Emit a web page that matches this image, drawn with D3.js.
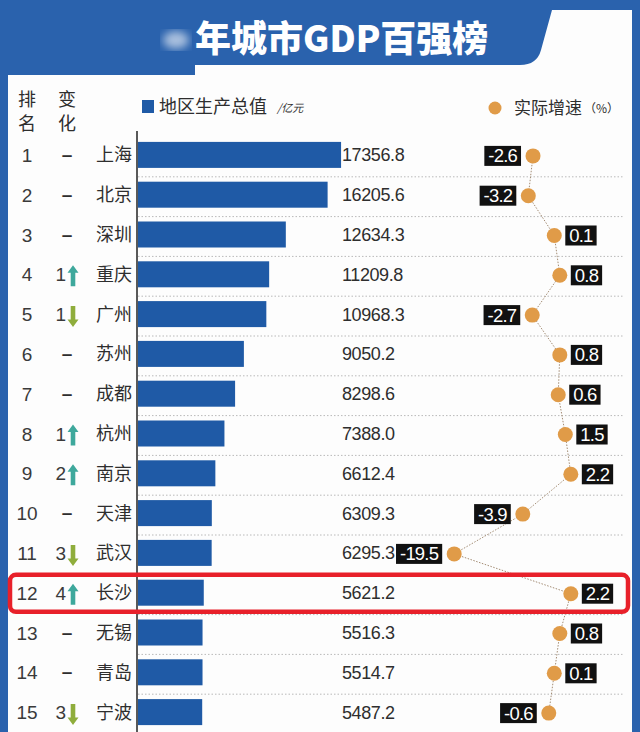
<!DOCTYPE html>
<html>
<head>
<meta charset="utf-8">
<script src="https://cdn.jsdelivr.net/npm/d3@7"></script>
<style>
  body { margin: 0; background: #2a62ad; }
  svg { display: block; font-family: "Liberation Sans", "Noto Sans CJK SC", sans-serif; }
  .cjk { font-family: "Noto Sans CJK SC", sans-serif; }
</style>
</head>
<body>
<svg id="chart" width="640" height="732"></svg>
<script>
// data
const ranks = [1, 2, 3, 4, 5, 6, 7, 8, 9, 10, 11, 12, 13, 14, 15];
const rankChange = [0, 0, 0, 1, -1, 0, 0, 1, 2, 0, -3, 4, 0, 0, -3];
const cities = ["上海", "北京", "深圳", "重庆", "广州", "苏州", "成都", "杭州", "南京", "天津", "武汉", "长沙", "无锡", "青岛", "宁波"];
const gdp = [17356.8, 16205.6, 12634.3, 11209.8, 10968.3, 9050.2, 8298.6, 7388.0, 6612.4, 6309.3, 6295.3, 5621.2, 5516.3, 5514.7, 5487.2];
const growth = [-2.6, -3.2, 0.1, 0.8, -2.7, 0.8, 0.6, 1.5, 2.2, -3.9, -19.5, 2.2, 0.8, 0.1, -0.6];
const highlightCity = "长沙";

const rows = cities.map((c, i) => ({
  rank: ranks[i], change: rankChange[i], city: c, gdp: gdp[i], growth: growth[i]
}));

const barBlue = "#1f5aa6";
const orange = "#e09b48";
const textCol = "#2e2e2e";

const svg = d3.select("#chart");

// white panel with the title tab cut out
svg.append("path")
  .attr("d", "M8,75 L195,75 L195,65 L520,65 Q537,65 541,50 L552,10 L632,10 L632,732 L8,732 Z")
  .attr("fill", "#fdfdfd");

// blurred year before the title (unreadable in the source)
const defs = svg.append("defs");
defs.append("filter").attr("id", "blur")
  .append("feGaussianBlur").attr("stdDeviation", 4);
svg.append("ellipse")
  .attr("cx", 176).attr("cy", 40).attr("rx", 13).attr("ry", 9)
  .attr("fill", "#fff").attr("opacity", 0.6)
  .attr("filter", "url(#blur)");

svg.append("text")
  .attr("class", "cjk")
  .attr("x", 195).attr("y", 52)
  .attr("font-size", 36).attr("font-weight", 900)
  .attr("fill", "#fff")
  .text("年城市GDP百强榜");

// scales
const y = d3.scaleBand()
  .domain(cities)
  .range([135, 732]);
const step = y.step();
const barH = 26;

const x = d3.scaleLinear()
  .domain([0, 20000])
  .range([138, 372]);

const gx = d3.scaleLinear()
  .domain([-20, -4, 4])
  .range([452, 522, 585]);

// header
const head = svg.append("g").attr("class", "cjk")
  .attr("font-size", 18).attr("fill", textCol).attr("text-anchor", "middle");
head.append("text").attr("x", 27).attr("y", 106).text("排");
head.append("text").attr("x", 27).attr("y", 130).text("名");
head.append("text").attr("x", 67).attr("y", 106).text("变");
head.append("text").attr("x", 67).attr("y", 130).text("化");

// legend
svg.append("rect")
  .attr("x", 142).attr("y", 100).attr("width", 12).attr("height", 13)
  .attr("fill", barBlue);
svg.append("text").attr("class", "cjk")
  .attr("x", 159).attr("y", 113)
  .attr("font-size", 18).attr("fill", textCol)
  .text("地区生产总值");
svg.append("text").attr("class", "cjk")
  .attr("x", 277).attr("y", 112)
  .attr("font-size", 11).attr("font-style", "italic").attr("fill", textCol)
  .text("/亿元");

svg.append("circle")
  .attr("cx", 495).attr("cy", 108).attr("r", 6.5)
  .attr("fill", orange);
svg.append("text").attr("class", "cjk")
  .attr("x", 514).attr("y", 114)
  .attr("font-size", 17).attr("fill", textCol)
  .text("实际增速");
svg.append("text").attr("class", "cjk")
  .attr("x", 584).attr("y", 113)
  .attr("font-size", 12).attr("fill", textCol)
  .text("（%）");

// dotted separators
svg.append("g")
  .selectAll("line")
  .data(cities.slice(1))
  .join("line")
  .attr("x1", 138).attr("x2", 624)
  .attr("y1", d => y(d) + 2).attr("y2", d => y(d) + 2)
  .attr("stroke", "#b9b9b9")
  .attr("stroke-width", 1)
  .attr("stroke-dasharray", "1.5,2");

// bars
svg.append("g")
  .selectAll("rect")
  .data(rows)
  .join("rect")
  .attr("x", x(0))
  .attr("y", d => y(d.city) + (step - barH) / 2)
  .attr("width", d => x(d.gdp) - x(0))
  .attr("height", barH)
  .attr("fill", barBlue);

// axis line
svg.append("line")
  .attr("x1", 137).attr("x2", 137)
  .attr("y1", 131).attr("y2", 732)
  .attr("stroke", "#222").attr("stroke-width", 1.5);

// gdp values
svg.append("g")
  .selectAll("text")
  .data(rows)
  .join("text")
  .attr("x", 342)
  .attr("y", d => y(d.city) + step / 2 + 6.5)
  .attr("font-size", 18)
  .attr("letter-spacing", -0.4)
  .attr("fill", textCol)
  .text(d => d.gdp.toFixed(1));

// rank
svg.append("g")
  .selectAll("text")
  .data(rows)
  .join("text")
  .attr("x", 27)
  .attr("y", d => y(d.city) + step / 2 + 7)
  .attr("text-anchor", "middle")
  .attr("font-size", 19)
  .attr("fill", "#3a3a3a")
  .text(d => d.rank);

// rank change
const chg = svg.append("g")
  .selectAll("g")
  .data(rows)
  .join("g")
  .attr("transform", d => "translate(0," + (y(d.city) + step / 2) + ")");

chg.filter(d => d.change === 0)
  .append("text")
  .attr("x", 67).attr("y", 6)
  .attr("text-anchor", "middle")
  .attr("font-size", 19).attr("font-weight", "bold")
  .attr("fill", textCol)
  .text("–");

chg.filter(d => d.change !== 0)
  .append("text")
  .attr("x", 66).attr("y", 7)
  .attr("text-anchor", "end")
  .attr("font-size", 19)
  .attr("fill", "#3a3a3a")
  .text(d => Math.abs(d.change));

// arrows
const arrowUp = "M0,-11 L5.5,-3.5 L2.3,-3.5 L2.3,10 L-2.3,10 L-2.3,-3.5 L-5.5,-3.5 Z";
chg.filter(d => d.change !== 0)
  .append("path")
  .attr("d", arrowUp)
  .attr("transform", d => "translate(73,2)" + (d.change < 0 ? " rotate(180)" : ""))
  .attr("fill", d => d.change > 0 ? "#3ea89c" : "#8fad3c");

// city names
svg.append("g").attr("class", "cjk")
  .selectAll("text")
  .data(rows)
  .join("text")
  .attr("x", 132)
  .attr("y", d => y(d.city) + step / 2 + 6.5)
  .attr("text-anchor", "end")
  .attr("font-size", 18)
  .attr("fill", textCol)
  .text(d => d.city);

// growth line
svg.append("path")
  .datum(rows)
  .attr("fill", "none")
  .attr("stroke", "#a38c74")
  .attr("stroke-width", 1)
  .attr("stroke-dasharray", "1.5,1.5")
  .attr("d", d3.line()
    .x(d => gx(d.growth))
    .y(d => y(d.city) + step / 2 + 1));

// growth dots
svg.append("g")
  .selectAll("circle")
  .data(rows)
  .join("circle")
  .attr("cx", d => gx(d.growth))
  .attr("cy", d => y(d.city) + step / 2 + 1)
  .attr("r", 7.5)
  .attr("fill", orange);

// growth labels
const lab = svg.append("g")
  .selectAll("g")
  .data(rows)
  .join("g");

const labText = lab.append("text")
  .attr("font-size", 18.5)
  .attr("letter-spacing", -0.8)
  .attr("fill", "#fff")
  .attr("y", d => y(d.city) + step / 2 + 7.5)
  .text(d => d.growth.toFixed(1));

labText.each(function(d) {
  const w = this.getComputedTextLength() + 8;
  const cx = gx(d.growth);
  const left = d.growth < 0 ? cx - 12 - w : cx + 11;
  d.boxLeft = left;
  d.boxW = w;
  d3.select(this).attr("x", left + 4);
});

lab.insert("rect", "text")
  .attr("x", d => d.boxLeft)
  .attr("y", d => y(d.city) + step / 2 - 9)
  .attr("width", d => d.boxW)
  .attr("height", 20)
  .attr("fill", "#111");

// highlight row
const hi = rows.find(d => d.city === highlightCity);
svg.append("rect")
  .attr("x", 10).attr("y", y(hi.city) + 2)
  .attr("width", 618).attr("height", 37)
  .attr("rx", 6)
  .attr("fill", "none")
  .attr("stroke", "#e8202a")
  .attr("stroke-width", 4.5);
</script>
</body>
</html>
